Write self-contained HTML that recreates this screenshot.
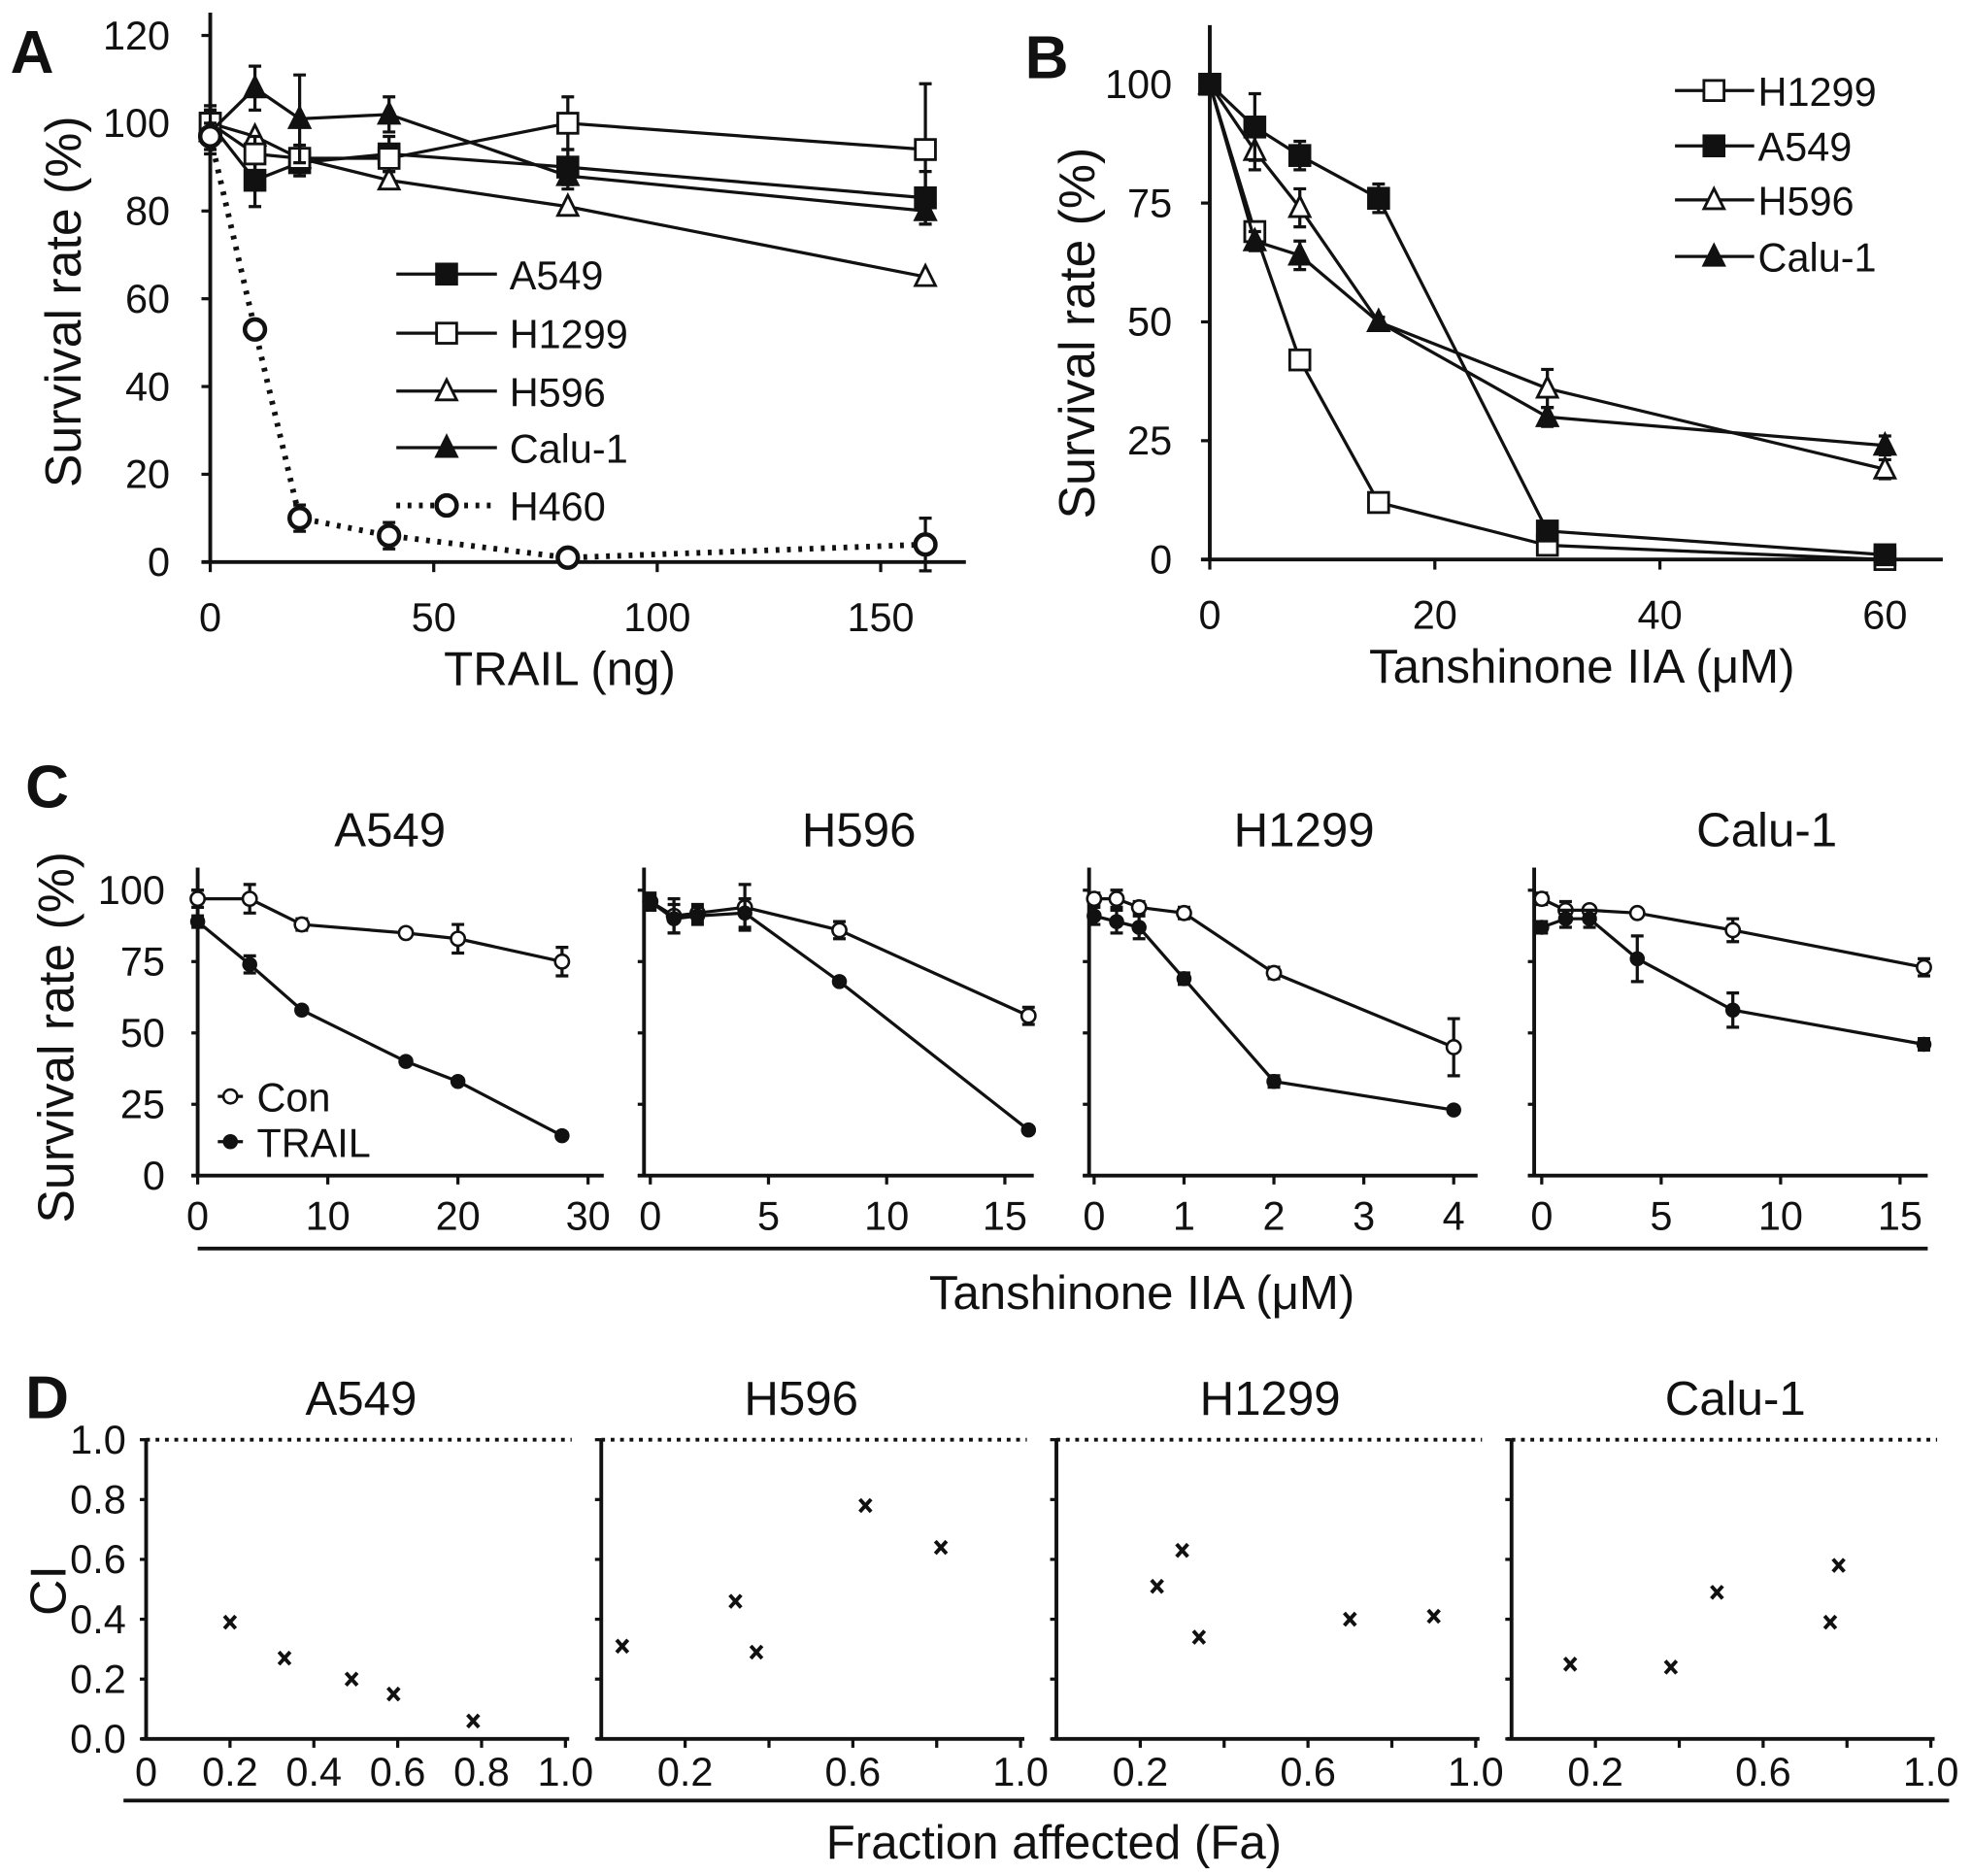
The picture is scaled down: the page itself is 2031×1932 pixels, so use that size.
<!DOCTYPE html>
<html><head><meta charset="utf-8"><style>
html,body{margin:0;padding:0;background:#fff;}
svg{display:block;}
text{font-family:"Liberation Sans",sans-serif;fill:#111;}
.tk{font-family:"Liberation Sans Narrow","Liberation Sans",sans-serif;font-size:32px;}
.tt{font-size:38px;}
.yt{font-size:40px;}
.pl{font-size:48px;font-weight:bold;}
</style></head><body>
<svg id="fig" width="2031" height="1932" viewBox="0 0 1568 1492" xmlns="http://www.w3.org/2000/svg">
<g id="root"></g>
</svg>
<script>
// ---------- Panel A data ----------
const aX = [0,10,20,40,80,160];
const aA549 = [100,87,91,93,90,83];
const aH1299 = [100,93,92,92,100,94];
const aH596 = [100,97,92,87,81,65];
const aCalu = [98,108,101,102,88,80];
const aH460 = [97,53,10,6,1,4];
const aErrA549 = [4,6,3,4,4,6];
const aErrH1299 = [3,4,3,3,6,15];
const aErrCalu = [5,5,10,4,3,3];
const aErrH460 = [3,2,3,3,1,6];
const aYTicks = [0,20,40,60,80,100,120];
const aXTicks = [0,50,100,150];
// ---------- Panel B data ----------
const bX = [0,4,8,15,30,60];
const bH1299 = [100,69,42,12,3,0];
const bA549 = [100,91,85,76,6,1];
const bH596 = [100,86,74,50,36,19];
const bCalu = [100,67,64,50,30,24];
const bErrA549 = [2,7,3,3,1,1];
const bErrH596 = [2,4,4,1,4,2];
const bErrCalu = [2,2,3,1,2,2];
const bYTicks = [0,25,50,75,100];
const bXTicks = [0,20,40,60];
// ---------- Panel C data ----------
const cNames = ["A549","H596","H1299","Calu-1"];
const cX = [[0,4,8,16,20,28],[0,1,2,4,8,16],[0,0.25,0.5,1,2,4],[0,1,2,4,8,16]];
const cCon = [[97,97,88,85,83,75],[96,91,92,94,86,56],[97,97,94,92,71,45],[97,93,93,92,86,73]];
const cTrail = [[89,74,58,40,33,14],[96,90,91,92,68,16],[91,89,87,69,33,23],[87,90,90,76,58,46]];
const cErrCon = [[3,5,2,1,5,5],[3,6,3,8,3,3],[2,3,2,2,2,10],[2,3,1,1,4,3]];
const cErrTrail = [[2,3,1,1,1,1],[2,5,3,5,1,1],[3,4,4,2,2,1],[2,3,3,8,6,2]];
const cXTicks = [[0,10,20,30],[0,5,10,15],[0,1,2,3,4],[0,5,10,15]];
const cYTicks = [0,25,50,75,100];
// ---------- Panel D data ----------
const dNames = ["A549","H596","H1299","Calu-1"];
const dFa = [[0.2,0.33,0.49,0.59,0.78],[0.05,0.32,0.37,0.63,0.81],[0.24,0.3,0.34,0.7,0.9],[0.14,0.38,0.49,0.76,0.78]];
const dCI = [[0.39,0.27,0.20,0.15,0.06],[0.31,0.46,0.29,0.78,0.64],[0.51,0.63,0.34,0.40,0.41],[0.25,0.24,0.49,0.39,0.58]];
const dYTicks = ["0.0","0.2","0.4","0.6","0.8","1.0"];
const dXTicksFirst = ["0","0.2","0.4","0.6","0.8","1.0"];
const dXTicksOther = ["0.2","0.6","1.0"];

const NS="http://www.w3.org/2000/svg";
const root=document.getElementById('root');
function mk(tag,attrs,parent){const e=document.createElementNS(NS,tag);for(const k in attrs)e.setAttribute(k,attrs[k]);(parent||root).appendChild(e);return e;}
function line(x1,y1,x2,y2,w,p){return mk('line',{x1,y1,x2,y2,stroke:'#111','stroke-width':w||2.5},p);}
function txt(x,y,s,cls,anchor,p){const t=mk('text',{x,y,'class':cls,'text-anchor':anchor||'middle'},p);t.textContent=s;return t;}
function marker(kind,x,y,p,r){r=r||8;let e;
 if(kind==='fsq'||kind==='osq'){e=mk('rect',{x:x-r,y:y-r,width:2*r,height:2*r,fill:kind==='fsq'?'#111':'#fff',stroke:'#111','stroke-width':2.2},p);}
 else if(kind==='ftri'||kind==='otri'){e=mk('polygon',{points:`${x},${y-r-1} ${x-r},${y+r-1} ${x+r},${y+r-1}`,fill:kind==='ftri'?'#111':'#fff',stroke:'#111','stroke-width':2.2},p);}
 else if(kind==='ocirc'){e=mk('circle',{cx:x,cy:y,r:r,fill:'#fff',stroke:'#111','stroke-width':3.5},p);}
 else if(kind==='fdot'){e=mk('circle',{cx:x,cy:y,r:r,fill:'#111',stroke:'#111','stroke-width':1},p);}
 else if(kind==='odot'){e=mk('circle',{cx:x,cy:y,r:r,fill:'#fff',stroke:'#111','stroke-width':2},p);}
 return e;}
function series(g,xs,ys,sx,sy,kind,errs,dash,name,r){
 const pts=xs.map((v,i)=>sx(v)+','+sy(ys[i])).join(' ');
 const pl=mk('polyline',{points:pts,fill:'none',stroke:'#111','stroke-width':dash?4.5:2.5,'stroke-dasharray':dash?'3,6':'none'},g);
 
 
 if(errs){xs.forEach((v,i)=>{const x=sx(v),y1=sy(ys[i]+errs[i]),y2=sy(ys[i]-errs[i]);
  const eb=mk('path',{d:`M${x},${y1}V${y2}M${x-5},${y1}H${x+5}M${x-5},${y2}H${x+5}`,stroke:'#111','stroke-width':2.5,fill:'none'},g);
  
  });}
 xs.forEach((v,i)=>{const m=marker(kind,sx(v),sy(ys[i]),g,r);
  
  });
}

// ================= Panel A =================
(function(){
 const g=mk('g',{});
 
 
 const sx=v=>167+v*3.555, sy=v=>447-v*3.49;
 line(167,10,167,447,3,g);line(160,447,768,447,3,g);
 aYTicks.forEach(v=>{line(160,sy(v),167,sy(v),2.5,g);const t=txt(135,sy(v)+11,String(v),'tk','end',g);
  });
 aXTicks.forEach(v=>{line(sx(v),447,sx(v),455,2.5,g);const t=txt(sx(v),502,String(v),'tk','middle',g);
  });
 let t=txt(445,545,'TRAIL (ng)','tt','middle',g);
 
 t=txt(0,0,'Survival rate (%)','yt','middle',g);t.setAttribute('transform','translate(64,240) rotate(-90)');
 
 t=txt(8,58,'A','pl','start',g);
 
 series(g,aX,aH596,sx,sy,'otri',null,false,'a-h596');
 series(g,aX,aA549,sx,sy,'fsq',aErrA549,false,'a-a549');
 series(g,aX,aH1299,sx,sy,'osq',aErrH1299,false,'a-h1299');
 series(g,aX,aCalu,sx,sy,'ftri',aErrCalu,false,'a-calu1');
 series(g,aX,aH460,sx,sy,'ocirc',aErrH460,true,'a-h460');
 const leg=[['A549','fsq',false],['H1299','osq',false],['H596','otri',false],['Calu-1','ftri',false],['H460','ocirc',true]];
 const ly=[218,265,311,356,402];
 leg.forEach((l,i)=>{const lg=mk('g',{},g);
  
  mk('line',{x1:315,y1:ly[i],x2:395,y2:ly[i],stroke:'#111','stroke-width':l[2]?4.5:2.5,'stroke-dasharray':l[2]?'3,6':'none'},lg);
  marker(l[1],355,ly[i],lg);txt(405,ly[i]+12,l[0],'tk','start',lg);});
})();

// ================= Panel B =================
(function(){
 const g=mk('g',{});
 
 
 const sx=v=>962+v*8.95, sy=v=>445-v*3.78;
 line(962,20,962,445,3,g);line(955,445,1545,445,3,g);
 bYTicks.forEach(v=>{line(955,sy(v),962,sy(v),2.5,g);const t=txt(932,sy(v)+11,String(v),'tk','end',g);
  });
 bXTicks.forEach(v=>{line(sx(v),445,sx(v),453,2.5,g);const t=txt(sx(v),500,String(v),'tk','middle',g);
  });
 let t=txt(1258,543,'Tanshinone IIA (μM)','tt','middle',g);
 
 t=txt(0,0,'Survival rate (%)','yt','middle',g);t.setAttribute('transform','translate(870,265) rotate(-90)');
 
 t=txt(815,62,'B','pl','start',g);
 
 series(g,bX,bH1299,sx,sy,'osq',null,false,'b-h1299');
 series(g,bX,bH596,sx,sy,'otri',bErrH596,false,'b-h596');
 series(g,bX,bCalu,sx,sy,'ftri',bErrCalu,false,'b-calu1');
 series(g,bX,bA549,sx,sy,'fsq',bErrA549,false,'b-a549');
 const leg=[['H1299','osq'],['A549','fsq'],['H596','otri'],['Calu-1','ftri']];
 const ly=[72,116,159,204];
 leg.forEach((l,i)=>{const lg=mk('g',{},g);
  
  line(1332,ly[i],1395,ly[i],2.5,lg);marker(l[1],1363,ly[i],lg);txt(1398,ly[i]+12,l[0],'tk','start',lg);});
})();

// ================= Panel C =================
(function(){
 const g=mk('g',{});
 
 
 const axX=[157,512,866,1220], x0=[157,517,870,1226], per=[10.35,18.8,71.5,19], xEnd=[480,822,1175,1533], tx=[310,683,1037,1405];
 const sy=v=>935-v*2.27;
 let t=txt(20,642,'C','pl','start',g);
 
 t=txt(0,0,'Survival rate (%)','yt','middle',g);t.setAttribute('transform','translate(58,825) rotate(-90)');
 
 line(157,993,1533,993,3,g);
 t=txt(908,1041,'Tanshinone IIA (μM)','tt','middle',g);
 
 cNames.forEach((nm,k)=>{
  const sg=mk('g',{},g);
  
  const sx=v=>x0[k]+v*per[k];
  line(axX[k],690,axX[k],935,3,sg);line(axX[k]-5,935,xEnd[k],935,3,sg);
  cYTicks.forEach(v=>{line(axX[k]-5,sy(v),axX[k],sy(v),2.5,sg);
   if(k===0){const tt=txt(131,sy(v)+11,String(v),'tk','end',sg);
    }});
  cXTicks[k].forEach(v=>{line(sx(v),935,sx(v),942,2.5,sg);const tt=txt(sx(v),978,String(v),'tk','middle',sg);
   });
  const ti=txt(tx[k],673,nm,'tt','middle',sg);
  
  series(sg,cX[k],cCon[k],sx,sy,'odot',cErrCon[k],false,'c-con-'+nm.toLowerCase(),5.5);
  series(sg,cX[k],cTrail[k],sx,sy,'fdot',cErrTrail[k],false,'c-trail-'+nm.toLowerCase(),5.5);
 });
 const leg=[['Con','odot'],['TRAIL','fdot']];
 const ly=[872,908];
 leg.forEach((l,i)=>{const lg=mk('g',{},g);
  
  line(173,ly[i],193,ly[i],2.5,lg);marker(l[1],183,ly[i],lg,5.5);txt(204,ly[i]+12,l[0],'tk','start',lg);});
})();

// ================= Panel D =================
(function(){
 const g=mk('g',{});
 
 
 const axX=[116,478,840,1202], tx=[287,637,1010,1380];
 const sy=v=>1383-v*238;
 let t=txt(20,1128,'D','pl','start',g);
 
 t=txt(0,0,'CI','yt','middle',g);t.setAttribute('transform','translate(52,1265) rotate(-90)');
 
 line(98,1432,1550,1432,3,g);
 t=txt(838,1478,'Fraction affected (Fa)','tt','middle',g);
 
 dNames.forEach((nm,k)=>{
  const sg=mk('g',{},g);
  
  const sx=v=>axX[k]+v*333.5;
  line(axX[k],1145,axX[k],1383,3,sg);line(axX[k]-4,1383,sx(1.0)+3,1383,3,sg);
  mk('line',{x1:axX[k],y1:sy(1),x2:sx(1.0)+5,y2:sy(1),stroke:'#111','stroke-width':3,'stroke-dasharray':'3,4.5'},sg);
  dYTicks.forEach(v=>{const y=sy(parseFloat(v));line(axX[k]-5,y,axX[k],y,2.5,sg);
   if(k===0){const tt=txt(100,y+11,v,'tk','end',sg);
    }});
  const xt=k===0?dXTicksFirst:dXTicksOther;
  [0.2,0.4,0.6,0.8,1.0].forEach(v=>line(sx(v),1383,sx(v),1390,2.5,sg));
  xt.forEach(v=>{const tt=txt(sx(parseFloat(v)),1420,v,'tk','middle',sg);
   });
  const ti=txt(tx[k],1125,nm,'tt','middle',sg);
  
  dFa[k].forEach((fa,i)=>{const x=sx(fa),y=sy(dCI[k][i]);
   const m=mk('path',{d:`M${x-4.5},${y-5}L${x+4.5},${y+5}M${x+4.5},${y-5}L${x-4.5},${y+5}`,stroke:'#111','stroke-width':3,fill:'none'},sg);
   
   });
 });
})();
</script>
</body></html>
